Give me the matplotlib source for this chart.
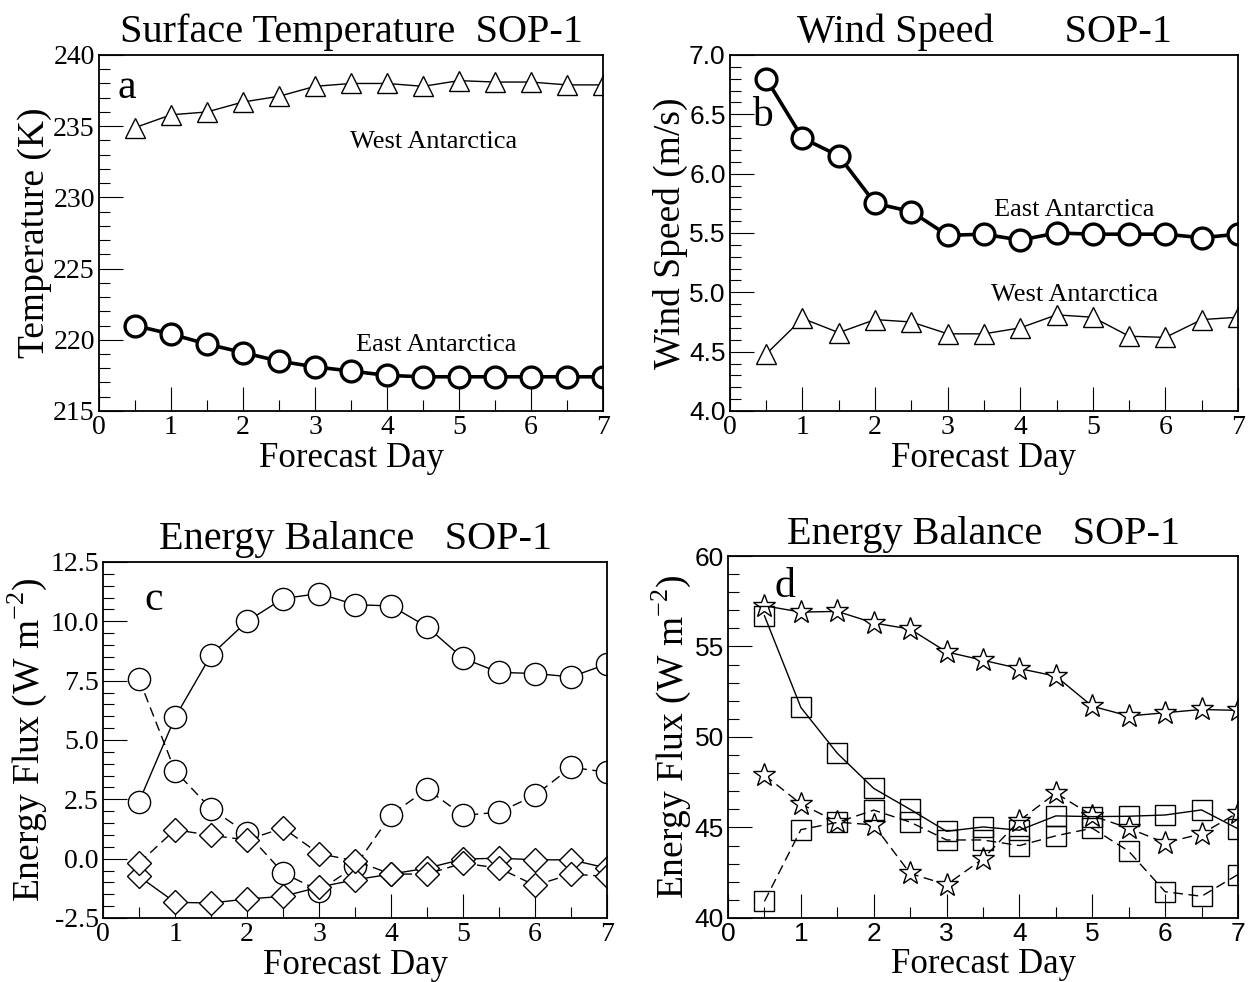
import matplotlib
matplotlib.use("Agg")
import matplotlib.pyplot as plt
from matplotlib.ticker import MultipleLocator, FormatStrFormatter

plt.rcParams['font.family'] = ['Liberation Serif', 'DejaVu Serif']

days = [0.5, 1.0, 1.5, 2.0, 2.5, 3.0, 3.5, 4.0, 4.5, 5.0, 5.5, 6.0, 6.5, 7.0]

# panel a - surface temperature (K)
temp_west = [234.9, 235.8, 236.0, 236.7, 237.1, 237.8, 238.0, 238.0, 237.8, 238.2, 238.1, 238.1, 237.9, 237.9]
temp_east = [221.0, 220.4, 219.7, 219.1, 218.5, 218.1, 217.8, 217.5, 217.4, 217.4, 217.4, 217.4, 217.4, 217.4]

# panel b - wind speed (m/s)
wind_east = [6.80, 6.30, 6.15, 5.75, 5.68, 5.48, 5.49, 5.44, 5.50, 5.49, 5.49, 5.49, 5.46, 5.49]
wind_west = [4.48, 4.78, 4.66, 4.77, 4.75, 4.65, 4.65, 4.70, 4.81, 4.79, 4.63, 4.62, 4.77, 4.79]

# panel c - energy balance (W m-2)
c_circ_solid = [2.4, 5.95, 8.58, 10.0, 10.96, 11.17, 10.7, 10.65, 9.77, 8.44, 7.85, 7.8, 7.66, 8.2]
c_circ_dash = [7.57, 3.7, 2.1, 1.07, -0.6, -1.35, -0.33, 1.85, 2.93, 1.82, 1.96, 2.67, 3.85, 3.64]
c_diam_solid = [-0.75, -1.84, -1.87, -1.70, -1.59, -1.2, -0.89, -0.65, -0.4, -0.02, 0.02, -0.05, -0.05, -0.4]
c_diam_dash = [-0.19, 1.22, 0.98, 0.79, 1.29, 0.21, -0.09, -0.65, -0.65, -0.19, -0.4, -1.13, -0.65, -0.75]

# panel d - energy balance (W m-2)
d_star_solid = [57.25, 56.9, 56.94, 56.3, 55.96, 54.7, 54.24, 53.78, 53.36, 51.7, 51.16, 51.34, 51.52, 51.47]
d_star_dash = [47.9, 46.3, 45.3, 45.14, 42.46, 41.84, 43.27, 45.38, 46.9, 45.65, 44.96, 44.15, 44.65, 45.82]
d_sq_solid = [56.7, 51.63, 49.1, 47.16, 46.0, 44.79, 45.03, 44.85, 45.64, 45.6, 45.62, 45.69, 45.97, 44.93]
d_sq_dash = [40.92, 44.88, 45.28, 45.96, 45.3, 44.31, 44.31, 44.0, 44.54, 44.96, 43.69, 41.45, 41.2, 42.4]

fig = plt.figure(figsize=(12.52, 9.82), dpi=100)
ax_a = fig.add_axes([0.0791, 0.5815, 0.4026, 0.3625])
ax_b = fig.add_axes([0.583, 0.5815, 0.4058, 0.3625])
ax_c = fig.add_axes([0.0823, 0.0652, 0.4026, 0.3625])
ax_d = fig.add_axes([0.5815, 0.0652, 0.4073, 0.3686])

sans = ['Liberation Sans', 'DejaVu Sans']
DASH = (0, (7, 4))


def style(ax, ymin, ymax, ymaj, ymin_step, title, ylabel, fmt, ysans=False, xsans=False):
    ax.set_xlim(0, 7)
    ax.set_ylim(ymin, ymax)
    ax.xaxis.set_major_locator(MultipleLocator(1))
    ax.xaxis.set_minor_locator(MultipleLocator(0.5))
    ax.yaxis.set_major_locator(MultipleLocator(ymaj))
    ax.yaxis.set_minor_locator(MultipleLocator(ymin_step))
    ax.yaxis.set_major_formatter(FormatStrFormatter(fmt))
    ax.tick_params(which='major', direction='in', length=17, width=0.8, labelsize=20, pad=3)
    ax.tick_params(which='minor', direction='in', length=8, width=0.8)
    ax.tick_params(top=False, right=False, which='both')
    for s in ax.spines.values():
        s.set_linewidth(1.3)
    ax.set_title(title, fontsize=29, pad=9)
    ax.set_xlabel('Forecast Day', fontsize=25, labelpad=1)
    ax.set_ylabel(ylabel, fontsize=27, labelpad=1)
    if ysans:
        for t in ax.get_yticklabels():
            t.set_family(sans)
            t.set_fontsize(19)
    if xsans:
        for t in ax.get_xticklabels():
            t.set_family(sans)
            t.set_fontsize(19)


# a
ax_a.plot(days, temp_west, color='black', lw=1.0, marker='^', ms=15, mfc='white', mec='black', mew=1.0)
ax_a.plot(days, temp_east, color='black', lw=2.6, marker='o', ms=15, mfc='white', mec='black', mew=2.4)
style(ax_a, 215, 240, 5, 1, 'Surface Temperature  SOP-1', 'Temperature (K)', '%d')
ax_a.text(4.65, 233.9, 'West Antarctica', fontsize=19, ha='center', va='center')
ax_a.text(4.68, 219.6, 'East Antarctica', fontsize=19, ha='center', va='center')
ax_a.text(0.056, 0.907, 'a', transform=ax_a.transAxes, fontsize=30, ha='center', va='center')

# b
ax_b.plot(days, wind_east, color='black', lw=2.6, marker='o', ms=15, mfc='white', mec='black', mew=2.4)
ax_b.plot(days, wind_west, color='black', lw=1.0, marker='^', ms=15, mfc='white', mec='black', mew=1.0)
style(ax_b, 4.0, 7.0, 0.5, 0.1, 'Wind Speed       SOP-1', 'Wind Speed (m/s)', '%.1f', ysans=True)
ax_b.text(4.75, 5.69, 'East Antarctica', fontsize=19, ha='center', va='center')
ax_b.text(4.75, 4.98, 'West Antarctica', fontsize=19, ha='center', va='center')
ax_b.text(0.063, 0.83, 'b', transform=ax_b.transAxes, fontsize=30, ha='center', va='center')

# c
ax_c.plot(days, c_circ_solid, color='black', lw=1.0, marker='o', ms=16, mfc='white', mec='black', mew=1.0)
ax_c.plot(days, c_circ_dash, color='black', lw=1.0, ls=DASH, marker='o', ms=16, mfc='white', mec='black', mew=1.0)
ax_c.plot(days, c_diam_solid, color='black', lw=1.0, marker='D', ms=12, mfc='white', mec='black', mew=1.0)
ax_c.plot(days, c_diam_dash, color='black', lw=1.0, ls=DASH, marker='D', ms=12, mfc='white', mec='black', mew=1.0)
style(ax_c, -2.5, 12.5, 2.5, 0.5, 'Energy Balance   SOP-1', r'Energy Flux (W m$^{\mathregular{-2}}$)', '%.1f')
ax_c.text(0.101, 0.893, 'c', transform=ax_c.transAxes, fontsize=30, ha='center', va='center')

# d
ax_d.plot(days, d_star_solid, color='black', lw=1.0, marker='*', ms=17, mfc='white', mec='black', mew=1.0)
ax_d.plot(days, d_star_dash, color='black', lw=1.0, ls=DASH, marker='*', ms=17, mfc='white', mec='black', mew=1.0)
ax_d.plot(days, d_sq_solid, color='black', lw=1.0, marker='s', ms=14, mfc='none', mec='black', mew=1.0)
ax_d.plot(days, d_sq_dash, color='black', lw=1.0, ls=DASH, marker='s', ms=14, mfc='none', mec='black', mew=1.0)
style(ax_d, 40, 60, 5, 1, 'Energy Balance   SOP-1', r'Energy Flux (W m$^{\mathregular{-2}}$)', '%d',
      ysans=True, xsans=True)
ax_d.text(0.112, 0.915, 'd', transform=ax_d.transAxes, fontsize=30, ha='center', va='center')

fig.savefig('out.png', dpi=100)
